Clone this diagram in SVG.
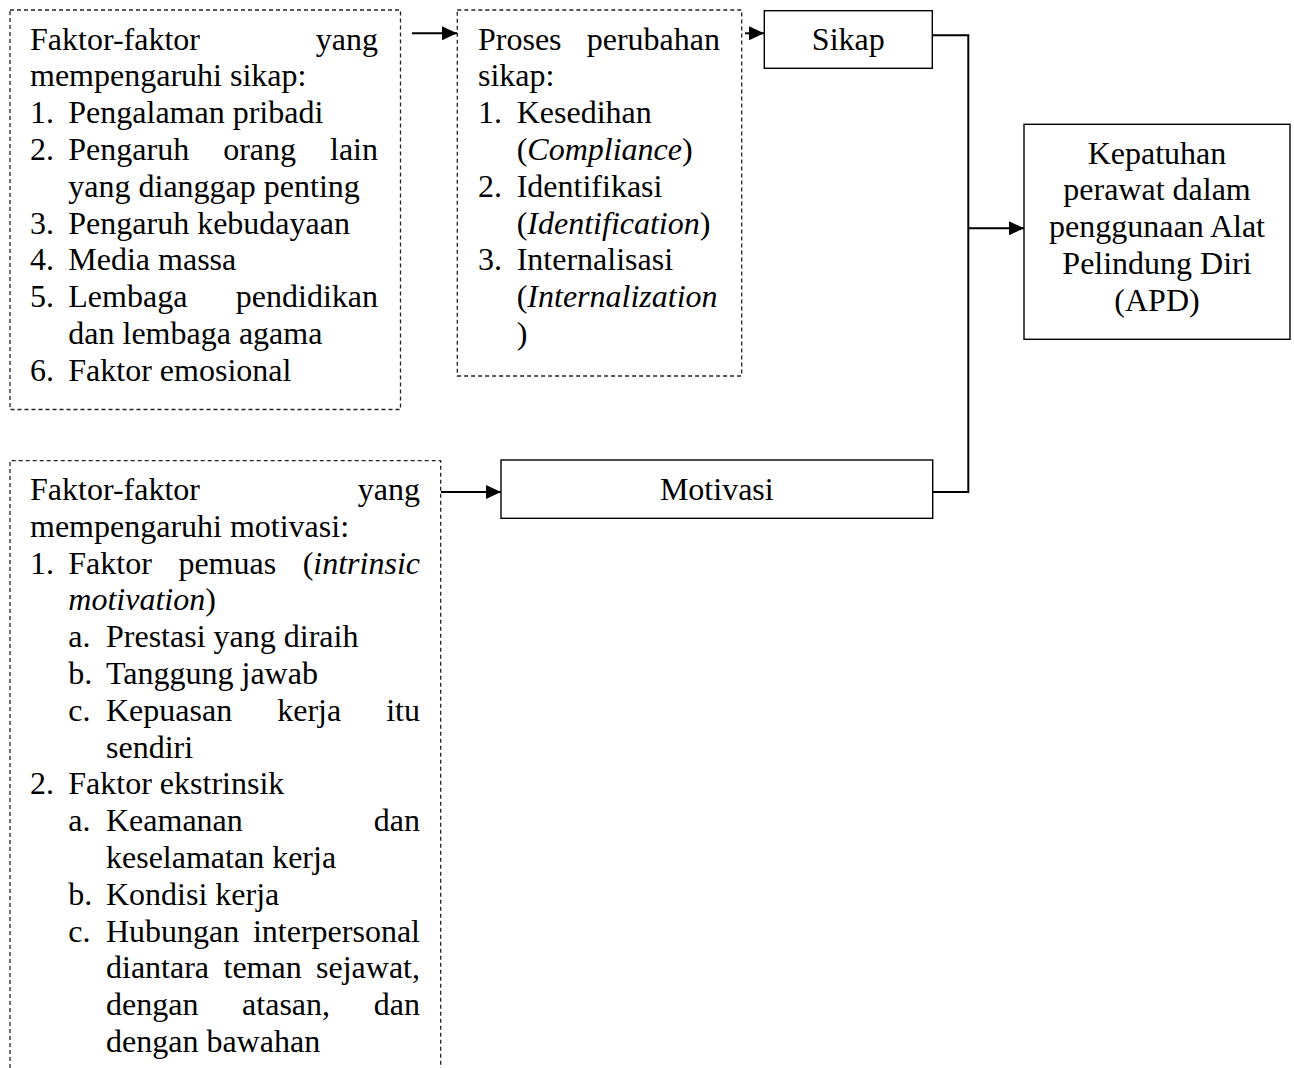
<svg xmlns="http://www.w3.org/2000/svg" width="1294" height="1068" viewBox="0 0 1294 1068">
<style>
text{font-family:"Liberation Serif","Times New Roman",serif;font-size:32px;fill:#000}
.e{text-anchor:end}
.m{text-anchor:middle}
.i{font-style:italic}
.dash{fill:none;stroke:#222;stroke-width:1.3;stroke-dasharray:4 3}
.box{fill:#fff;stroke:#000;stroke-width:1.4}
.conn{fill:none;stroke:#000;stroke-width:2}
</style>
<defs>
<marker id="ah" markerUnits="userSpaceOnUse" markerWidth="16" markerHeight="14" refX="15" refY="7" orient="auto">
<path d="M0,0 L15,7 L0,14 z" fill="#000"/>
</marker>
</defs>
<rect width="1294" height="1068" fill="#fff"/>

<g id="connectors">
<line class="conn" x1="412" y1="33.3" x2="457" y2="33.3" marker-end="url(#ah)"/>
<line class="conn" x1="745" y1="33.3" x2="764" y2="33.3" marker-end="url(#ah)"/>
<polyline class="conn" points="932.3,35.3 968.3,35.3 968.3,492 932.7,492"/>
<line class="conn" x1="968.3" y1="228.3" x2="1024" y2="228.3" marker-end="url(#ah)"/>
<line class="conn" x1="441" y1="492" x2="501" y2="492" marker-end="url(#ah)"/>
</g>

<g id="faktor-sikap">
<rect class="dash" x="10" y="10" width="390.5" height="399.5"/>
<text x="30" y="49.5">Faktor-faktor</text><text class="e" x="378" y="49.5">yang</text>
<text x="30" y="86.3">mempengaruhi sikap:</text>
<text x="30" y="123.1">1.</text><text x="68.3" y="123.1">Pengalaman pribadi</text>
<text x="30" y="159.9">2.</text><text x="68.3" y="159.9">Pengaruh</text><text x="223.2" y="159.9">orang</text><text class="e" x="378" y="159.9">lain</text>
<text x="68.3" y="196.7">yang dianggap penting</text>
<text x="30" y="233.5">3.</text><text x="68.3" y="233.5">Pengaruh kebudayaan</text>
<text x="30" y="270.3">4.</text><text x="68.3" y="270.3">Media massa</text>
<text x="30" y="307.1">5.</text><text x="68.3" y="307.1">Lembaga</text><text class="e" x="378" y="307.1">pendidikan</text>
<text x="68.3" y="343.9">dan lembaga agama</text>
<text x="30" y="380.7">6.</text><text x="68.3" y="380.7">Faktor emosional</text>
</g>

<g id="proses-perubahan">
<rect class="dash" x="457.3" y="10" width="284.4" height="366"/>
<text x="478" y="49.5">Proses</text><text class="e" x="720" y="49.5">perubahan</text>
<text x="478" y="86.3">sikap:</text>
<text x="478" y="123.1">1.</text><text x="516.7" y="123.1">Kesedihan</text>
<text x="516.7" y="159.9">(<tspan class="i">Compliance</tspan>)</text>
<text x="478" y="196.7">2.</text><text x="516.7" y="196.7">Identifikasi</text>
<text x="516.7" y="233.5">(<tspan class="i">Identification</tspan>)</text>
<text x="478" y="270.3">3.</text><text x="516.7" y="270.3">Internalisasi</text>
<text x="516.7" y="307.1">(<tspan class="i">Internalization</tspan></text>
<text x="516.7" y="343.9">)</text>
</g>

<g id="sikap">
<rect class="box" x="764.3" y="10.7" width="168" height="57.6"/>
<text class="m" x="848.3" y="50">Sikap</text>
</g>

<g id="kepatuhan">
<rect class="box" x="1024" y="124.3" width="266" height="215"/>
<text class="m" x="1157" y="163.5">Kepatuhan</text>
<text class="m" x="1157" y="200.3">perawat dalam</text>
<text class="m" x="1157" y="237.1">penggunaan Alat</text>
<text class="m" x="1157" y="273.9">Pelindung Diri</text>
<text class="m" x="1157" y="310.7">(APD)</text>
</g>

<g id="motivasi">
<rect class="box" x="501" y="460" width="431.7" height="58.3"/>
<text class="m" x="716.8" y="500">Motivasi</text>
</g>

<g id="faktor-motivasi">
<path class="dash" d="M10,1068 V460.7 H440.7 V1068"/>
<text x="30" y="500">Faktor-faktor</text><text class="e" x="420" y="500">yang</text>
<text x="30" y="536.8">mempengaruhi motivasi:</text>
<text x="30" y="573.6">1.</text><text x="68.3" y="573.6">Faktor</text><text x="178.4" y="573.6">pemuas</text><text class="e" x="420" y="573.6">(<tspan class="i">intrinsic</tspan></text>
<text x="68.3" y="610.4"><tspan class="i">motivation</tspan>)</text>
<text x="68.3" y="647.2">a.</text><text x="106" y="647.2">Prestasi yang diraih</text>
<text x="68.3" y="684">b.</text><text x="106" y="684">Tanggung jawab</text>
<text x="68.3" y="720.8">c.</text><text x="106" y="720.8">Kepuasan</text><text x="277.2" y="720.8">kerja</text><text class="e" x="420" y="720.8">itu</text>
<text x="106" y="757.6">sendiri</text>
<text x="30" y="794.4">2.</text><text x="68.3" y="794.4">Faktor ekstrinsik</text>
<text x="68.3" y="831.2">a.</text><text x="106" y="831.2">Keamanan</text><text class="e" x="420" y="831.2">dan</text>
<text x="106" y="868">keselamatan kerja</text>
<text x="68.3" y="904.8">b.</text><text x="106" y="904.8">Kondisi kerja</text>
<text x="68.3" y="941.6">c.</text><text x="106" y="941.6">Hubungan</text><text class="e" x="420" y="941.6">interpersonal</text>
<text x="106" y="978.4">diantara</text><text x="223.5" y="978.4">teman</text><text class="e" x="420" y="978.4">sejawat,</text>
<text x="106" y="1015.2">dengan</text><text x="242.1" y="1015.2">atasan,</text><text class="e" x="420" y="1015.2">dan</text>
<text x="106" y="1052">dengan bawahan</text>
</g>
</svg>
